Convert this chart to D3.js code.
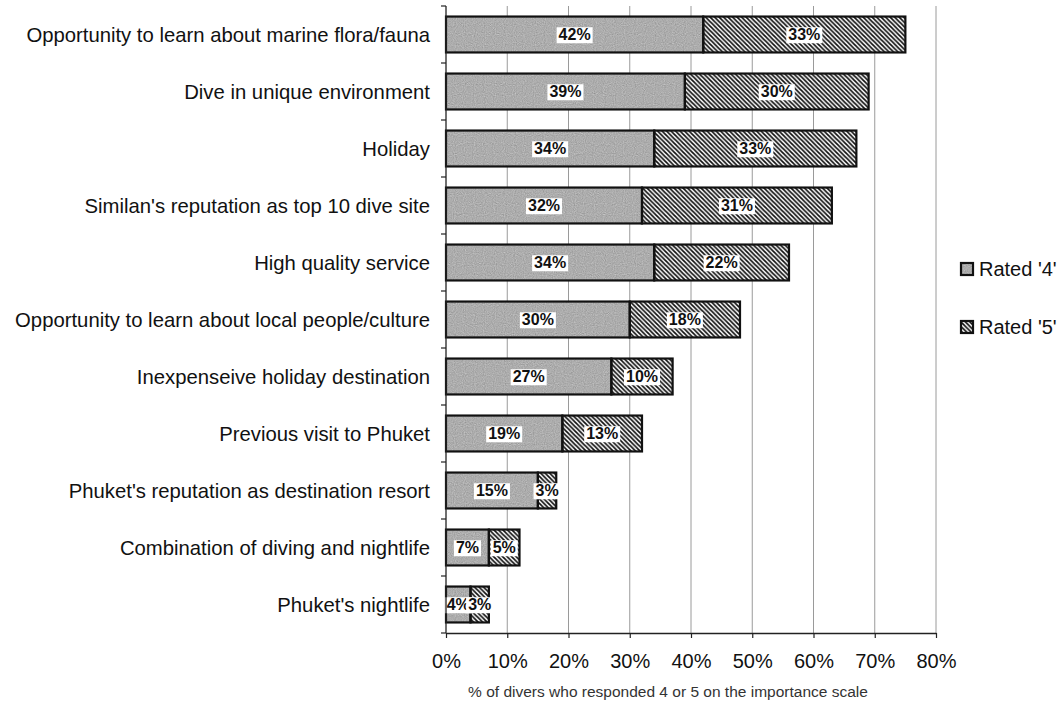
<!DOCTYPE html>
<html>
<head>
<meta charset="utf-8">
<script src="https://cdn.jsdelivr.net/npm/d3@7"></script>
<style>
  html, body { margin: 0; padding: 0; background: #fff; }
  svg { display: block; }
  text { font-family: "Liberation Sans", Arial, sans-serif; }
</style>
</head>
<body>
<svg id="chart" width="1061" height="706"></svg>
<script>
// Reasons for diving at the Similan Islands: share of divers rating each 4 or 5
const categories = [
  "Opportunity to learn about marine flora/fauna",
  "Dive in unique environment",
  "Holiday",
  "Similan's reputation as top 10 dive site",
  "High quality service",
  "Opportunity to learn about local people/culture",
  "Inexpenseive holiday destination",
  "Previous visit to Phuket",
  "Phuket's reputation as destination resort",
  "Combination of diving and nightlife",
  "Phuket's nightlife"
];
const rated4 = [42, 39, 34, 32, 34, 30, 27, 19, 15, 7, 4];
const rated5 = [33, 30, 33, 31, 22, 18, 10, 13, 3, 5, 3];
const seriesNames = ["Rated '4'", "Rated '5'"];
const xTicks = [0, 10, 20, 30, 40, 50, 60, 70, 80];
const xTitle = "% of divers who responded 4 or 5 on the importance scale";

const svg = d3.select("#chart");
const margin = { left: 446, right: 125, top: 6, bottom: 73 };
const W = 1061, H = 706;

const x = d3.scaleLinear().domain([0, 80]).range([margin.left, W - margin.right]);
const y = d3.scaleBand().domain(categories).range([margin.top, H - margin.bottom]).paddingInner(0.37).paddingOuter(0.185);
const yEdges = d3.scaleBand().domain(categories).range([margin.top, H - margin.bottom]);

// Fill definitions: grainy grey and diagonal hatch
const defs = svg.append("defs");
const grain = defs.append("filter").attr("id", "grain")
  .attr("x", 0).attr("y", 0).attr("width", 1).attr("height", 1)
  .attr("color-interpolation-filters", "sRGB");
grain.append("feTurbulence").attr("type", "fractalNoise").attr("baseFrequency", 0.9)
  .attr("numOctaves", 1).attr("seed", 3).attr("result", "noise");
grain.append("feColorMatrix").attr("in", "noise").attr("type", "matrix")
  .attr("values", "0.33 0.33 0.33 0 0  0.33 0.33 0.33 0 0  0.33 0.33 0.33 0 0  0 0 0 0 1")
  .attr("result", "gray");
const ct = grain.append("feComponentTransfer").attr("in", "gray").attr("result", "tone");
["feFuncR", "feFuncG", "feFuncB"].forEach(f =>
  ct.append(f).attr("type", "linear").attr("slope", 0.42).attr("intercept", 0.47));
grain.append("feComposite").attr("in", "tone").attr("in2", "SourceGraphic").attr("operator", "in");

const hatch = defs.append("pattern").attr("id", "hatch")
  .attr("patternUnits", "userSpaceOnUse").attr("width", 4.5).attr("height", 4.5);
hatch.append("rect").attr("width", 4.5).attr("height", 4.5).attr("fill", "#fff");
hatch.append("path")
  .attr("d", "M-1,-1L5.5,5.5M-1,3.5L1,5.5M3.5,-1L5.5,1")
  .attr("stroke", "#111").attr("stroke-width", 1.7);

// Vertical gridlines
svg.append("g").selectAll("line").data(xTicks.slice(1)).join("line")
  .attr("x1", d => x(d)).attr("x2", d => x(d))
  .attr("y1", margin.top).attr("y2", H - margin.bottom)
  .attr("stroke", "#9a9a9a").attr("stroke-width", 1);

// Stacked bars
const rows = categories.map((c, i) => ({ c, a: rated4[i], b: rated5[i] }));
const bars = svg.append("g");
bars.selectAll("rect.r4").data(rows).join("rect").attr("class", "r4")
  .attr("x", d => x(0)).attr("y", d => y(d.c))
  .attr("width", d => x(d.a) - x(0)).attr("height", y.bandwidth())
  .attr("fill", "#aaa").attr("filter", "url(#grain)");
bars.selectAll("rect.r5").data(rows).join("rect").attr("class", "r5")
  .attr("x", d => x(d.a)).attr("y", d => y(d.c))
  .attr("width", d => x(d.a + d.b) - x(d.a)).attr("height", y.bandwidth())
  .attr("fill", "url(#hatch)");
bars.selectAll("rect.o4").data(rows).join("rect")
  .attr("x", d => x(0)).attr("y", d => y(d.c))
  .attr("width", d => x(d.a) - x(0)).attr("height", y.bandwidth())
  .attr("fill", "none").attr("stroke", "#111").attr("stroke-width", 2.2);
bars.selectAll("rect.o5").data(rows).join("rect")
  .attr("x", d => x(d.a)).attr("y", d => y(d.c))
  .attr("width", d => x(d.a + d.b) - x(d.a)).attr("height", y.bandwidth())
  .attr("fill", "none").attr("stroke", "#111").attr("stroke-width", 2.2);

// Value labels on white boxes
const labels = [];
rows.forEach(d => {
  labels.push({ c: d.c, v: d.a, cx: (x(0) + x(d.a)) / 2 });
  labels.push({ c: d.c, v: d.b, cx: (x(d.a) + x(d.a + d.b)) / 2 });
});
const lg = svg.append("g");
labels.forEach(l => {
  const g = lg.append("g");
  const t = g.append("text").attr("x", l.cx).attr("y", y(l.c) + y.bandwidth() / 2)
    .attr("text-anchor", "middle").attr("dy", "0.36em")
    .attr("font-size", 16).attr("font-weight", "bold").attr("fill", "#111")
    .text(l.v + "%");
  const bb = t.node().getBBox();
  g.insert("rect", "text").attr("x", bb.x - 2).attr("y", bb.y + 1)
    .attr("width", bb.width + 4).attr("height", bb.height - 1).attr("fill", "#fff");
});

// Left axis with ticks on category boundaries
const ax = svg.append("g");
ax.append("line").attr("x1", x(0)).attr("x2", x(0))
  .attr("y1", margin.top).attr("y2", H - margin.bottom).attr("stroke", "#222").attr("stroke-width", 1.3);
const edges = categories.map(c => yEdges(c)).concat([H - margin.bottom]);
ax.selectAll("line.yt").data(edges).join("line").attr("class", "yt")
  .attr("x1", x(0) - 5).attr("x2", x(0)).attr("y1", d => d).attr("y2", d => d)
  .attr("stroke", "#222").attr("stroke-width", 1.2);
ax.selectAll("text.cat").data(categories).join("text").attr("class", "cat")
  .attr("x", 430).attr("y", d => y(d) + y.bandwidth() / 2).attr("dy", "0.35em")
  .attr("text-anchor", "end").attr("font-size", 20.3).attr("fill", "#111").text(d => d);

// Bottom axis
const xAxis = d3.axisBottom(x).tickValues(xTicks).tickFormat(d => d + "%").tickSize(5).tickSizeOuter(0);
const gx = svg.append("g").attr("transform", `translate(0,${H - margin.bottom})`).call(xAxis);
gx.select(".domain").attr("stroke", "#222").attr("stroke-width", 1.3);
gx.selectAll(".tick line").attr("stroke", "#222").attr("stroke-width", 1.2);
gx.selectAll(".tick text").attr("font-family", "Liberation Sans, Arial, sans-serif")
  .attr("font-size", 20).attr("fill", "#111").attr("y", 21);

svg.append("text").attr("x", 668).attr("y", 697)
  .attr("text-anchor", "middle").attr("font-size", 15.5).attr("fill", "#333").text(xTitle);

// Legend
const legend = svg.append("g");
const legY = [269, 327];
const legFill = ["#aaa", "url(#hatch)"];
seriesNames.forEach((n, i) => {
  legend.append("rect").attr("x", 961).attr("y", legY[i] - 6).attr("width", 12).attr("height", 12)
    .attr("fill", legFill[i]).attr("filter", i === 0 ? "url(#grain)" : null);
  legend.append("rect").attr("x", 961).attr("y", legY[i] - 6).attr("width", 12).attr("height", 12)
    .attr("fill", "none").attr("stroke", "#111").attr("stroke-width", 2.2);
  legend.append("text").attr("x", 979).attr("y", legY[i]).attr("dy", "0.36em")
    .attr("font-size", 20).attr("fill", "#111").text(n);
});
</script>
</body>
</html>
